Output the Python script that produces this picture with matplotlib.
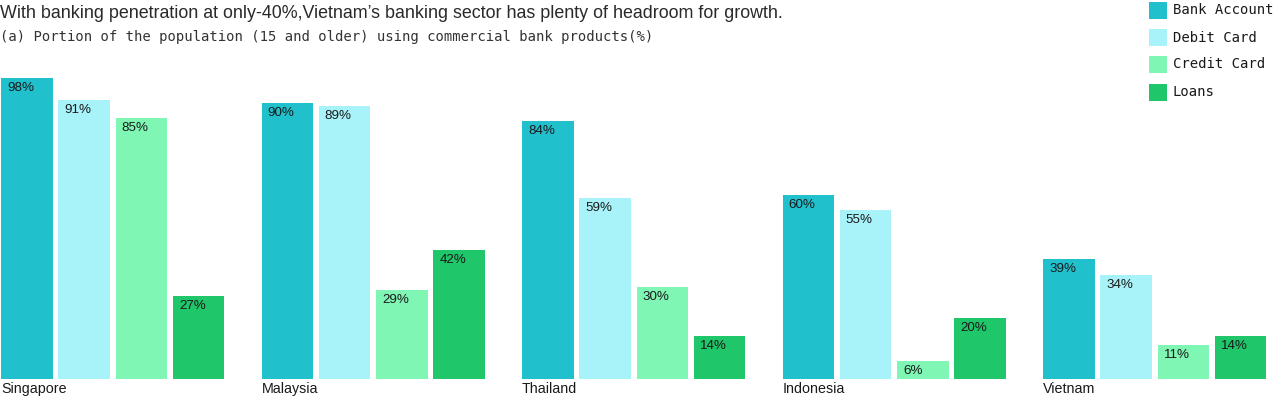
import numpy as np
import matplotlib.pyplot as plt
from matplotlib.patches import Rectangle

countries = ['Singapore', 'Malaysia', 'Thailand', 'Indonesia', 'Vietnam']
products = ['Bank Account', 'Debit Card', 'Credit Card', 'Loans']
bank_account = [98, 90, 84, 60, 39]
debit_card = [91, 89, 59, 55, 34]
credit_card = [85, 29, 30, 6, 11]
loans = [27, 42, 14, 20, 14]
colors = ['#20c0cc', '#a8f3f9', '#7ff6b4', '#1fc66a']

series = [bank_account, debit_card, credit_card, loans]

W, H = 1273, 398
fig = plt.figure(figsize=(W / 100, H / 100), dpi=100)
base = 379
top = base - 100 * 3.07
ax = fig.add_axes([0, (H - base) / H, 1, (base - top) / H])
ax.set_xlim(0, W)
ax.set_ylim(0, 100)
ax.axis('off')

group_step, bar_step, bar_w = 260.5, 57.3, 51.5
for g, country in enumerate(countries):
    x0 = 1 + g * group_step
    for i, vals in enumerate(series):
        x = x0 + i * bar_step
        ax.bar(x, vals[g], width=bar_w, align='edge', color=colors[i], edgecolor='none')
        ax.annotate(f'{vals[g]}%', (x, vals[g]), xytext=(6, -4), textcoords='offset pixels',
                    ha='left', va='top', fontsize=9.6, family='Liberation Sans', color='#1a1a1a')
    ax.annotate(country, (x0, 0), xytext=(0, -3), textcoords='offset pixels',
                ha='left', va='top', fontsize=10.3, family='Liberation Sans', color='#1a1a1a',
                annotation_clip=False)

fig.text(0, 1 - 14 / H, "With banking penetration at only-40%,Vietnam’s banking sector has plenty of headroom for growth.",
         ha='left', va='center', fontsize=12.9, family='Liberation Sans', color='#2a2a2a')
fig.text(0, 1 - 37 / H, '(a) Portion of the population (15 and older) using commercial bank products(%)',
         ha='left', va='center', fontsize=10, family='DejaVu Sans Mono', color='#333333')

# legend
leg_y = [2, 29, 56, 84]
for name, c, y in zip(products, colors, leg_y):
    fig.add_artist(Rectangle((1149 / W, 1 - (y + 17) / H), 18 / W, 17 / H,
                             transform=fig.transFigure, color=c, lw=0))
    fig.text(1173 / W, 1 - (y + 8.5) / H, name, ha='left', va='center',
             fontsize=10, family='DejaVu Sans Mono', color='#1a1a1a')

fig.savefig('out.png', dpi=100)
